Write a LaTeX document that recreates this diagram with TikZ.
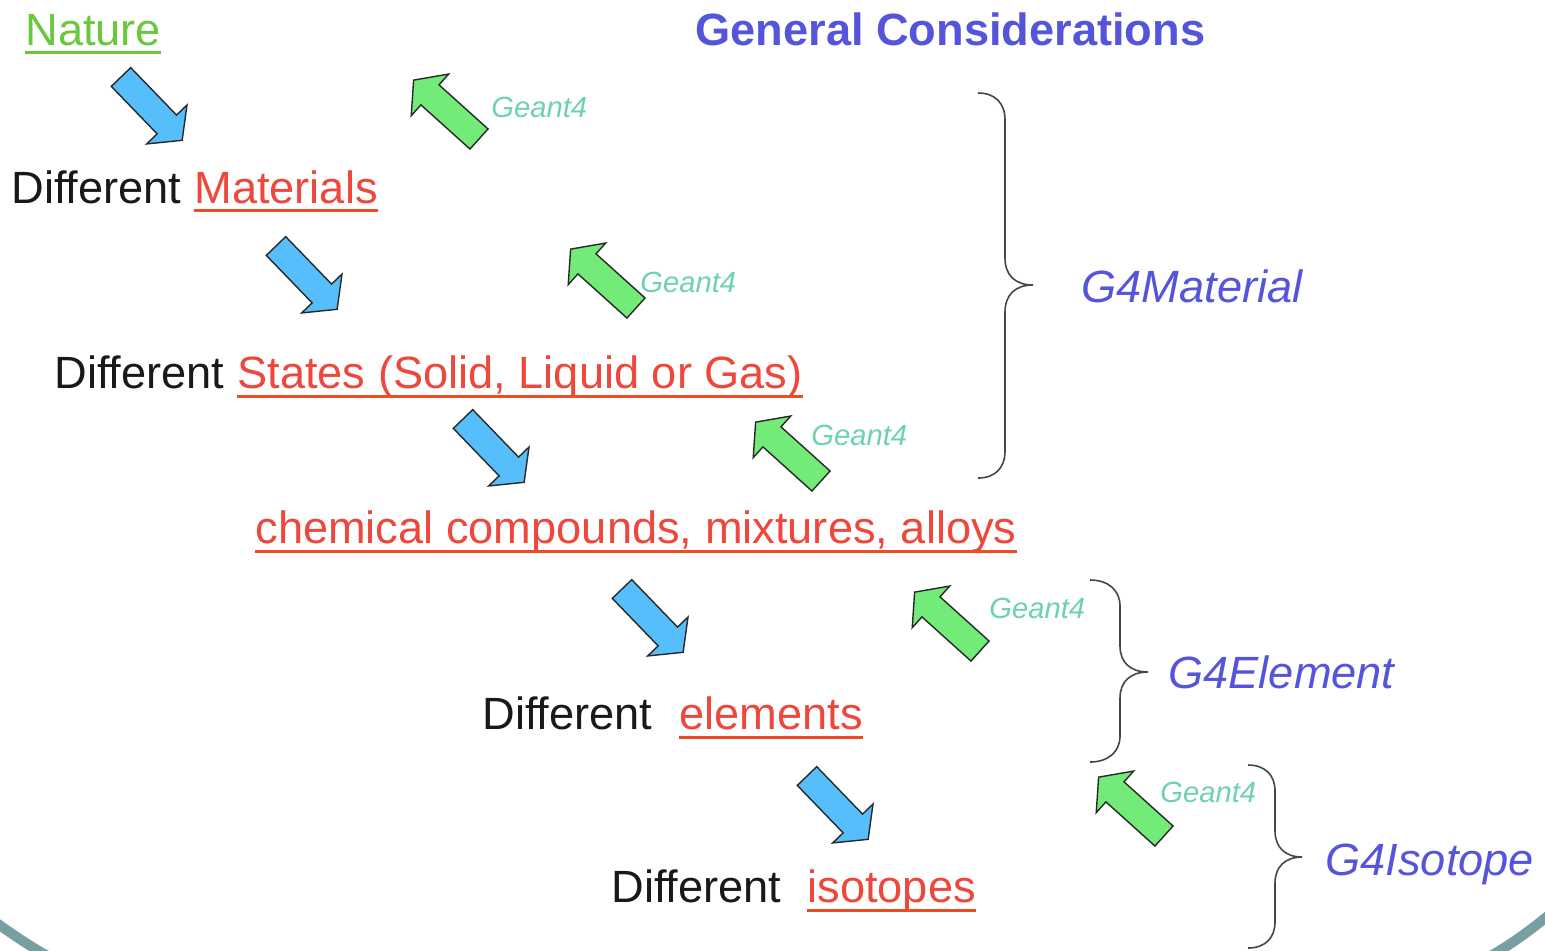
\documentclass[tikz,border=0pt]{standalone}
\usepackage{fontspec}
\setmainfont{Liberation Sans}
\definecolor{bluefill}{RGB}{86,190,250}
\definecolor{greenfill}{RGB}{115,235,120}
\definecolor{arrowline}{RGB}{40,40,40}
\definecolor{redtxt}{RGB}{238,72,60}
\definecolor{redline}{RGB}{240,75,35}
\definecolor{greentxt}{RGB}{105,200,60}
\definecolor{bluetxt}{RGB}{85,85,220}
\definecolor{geantc}{RGB}{110,210,175}
\definecolor{bracec}{RGB}{70,70,70}
\definecolor{borderc}{RGB}{120,160,163}
\definecolor{textblack}{RGB}{25,25,25}
\newcommand\blockarr[4]{%
  \draw[#1, shift={(#2,#3)}, rotate=#4] (0,-13.5) -- (66,-13.5) -- (66,-28) -- (88,0) -- (66,28) -- (66,13.5) -- (0,13.5) -- cycle;}
\tikzset{
  txt/.style={inner sep=0pt, anchor=base west, font=\fontsize{22.6}{26}\selectfont, text=textblack},
  redt/.style={txt, text=redtxt},
  glabel/.style={txt, text=bluetxt, font=\fontsize{22.6}{26}\selectfont\itshape},
  geant/.style={inner sep=0pt, anchor=base west, font=\fontsize{14.6}{17}\selectfont\itshape, text=geantc},
  ulred/.style={draw=redline, line width=1.5pt},
  barrow/.style={draw=arrowline, line width=0.7pt, fill=bluefill, line join=miter},
  garrow/.style={draw=arrowline, line width=0.7pt, fill=greenfill, line join=miter},
  bracepath/.style={draw=bracec, line width=0.8pt},
}
\begin{document}
\begin{tikzpicture}[x=0.5pt, y=-0.5pt]
\useasboundingbox (0,0) rectangle (1545,950);
\fill[white] (0,0) rectangle (1545,950);

% bottom border arcs
\draw[borderc, line width=5pt] (-20,911) .. controls (5,929) and (25,944) .. (60,963);
\draw[borderc, line width=5pt] (1565,902) .. controls (1540,922) and (1520,940) .. (1480,962);

% title and top label
\node[txt, text=greentxt] (nature) at (25,45) {Nature};
\draw[draw=greentxt, line width=1.5pt] ([yshift=-3.8pt]nature.base west) -- ([yshift=-3.8pt]nature.base east);
\node[txt, text=bluetxt, font=\fontsize{22.6}{26}\selectfont\bfseries] (title) at (695,45) {General Considerations};

% text lines
\node[txt] (d1) at (11,203) {Different};
\node[redt] (mat) at (194,203) {Materials};
\draw[ulred] ([yshift=-3.6pt]mat.base west) -- ([yshift=-3.6pt]mat.base east);

\node[txt] (d2) at (54,388) {Different};
\node[redt] (states) at (237,388) {States (Solid, Liquid or Gas)};
\draw[ulred] ([yshift=-4pt]states.base west) -- ([yshift=-4pt]states.base east);

\node[redt] (chem) at (255,543) {chemical compounds, mixtures, alloys};
\draw[ulred] ([yshift=-4pt]chem.base west) -- ([yshift=-4pt]chem.base east);

\node[txt] (d3) at (482,729) {Different};
\node[redt] (elem) at (679,729) {elements};
\draw[ulred] ([yshift=-4pt]elem.base west) -- ([yshift=-4pt]elem.base east);

\node[txt] (d4) at (611,902) {Different};
\node[redt] (iso) at (807,902) {isotopes};
\draw[ulred] ([yshift=-4pt]iso.base west) -- ([yshift=-4pt]iso.base east);

% class labels
\node[glabel] (gmat) at (1081,302) {G4Material};
\node[glabel] (gel) at (1168,688) {G4Element};
\node[glabel] (giso) at (1325,875) {G4Isotope};

% Geant4 labels
\node[geant] (ge1) at (491,117) {Geant4};
\node[geant] (ge2) at (640,292) {Geant4};
\node[geant] (ge3) at (811,445) {Geant4};
\node[geant] (ge4) at (989,618) {Geant4};
\node[geant] (ge5) at (1160,802) {Geant4};

% blue arrows (down-right)
\blockarr{barrow}{121}{77}{-46}
\blockarr{barrow}{276}{246}{-46}
\blockarr{barrow}{463}{419}{-46}
\blockarr{barrow}{622}{589}{-46}
\blockarr{barrow}{807}{776}{-46}

% green arrows (up-left)
\blockarr{garrow}{479}{139}{138}
\blockarr{garrow}{636}{308}{138}
\blockarr{garrow}{821}{481}{138}
\blockarr{garrow}{980}{651}{138}
\blockarr{garrow}{1164}{836}{138}

% braces
\draw[bracepath] (978,93) .. controls (995,93) and (1005,103) .. (1005,120) -- (1005,258)
  .. controls (1005,275) and (1015,285) .. (1033,285)
  .. controls (1015,285) and (1005,295) .. (1005,312) -- (1005,451)
  .. controls (1005,468) and (995,478) .. (978,478);
\draw[bracepath] (1090,580) .. controls (1108,580) and (1120,590) .. (1120,606) -- (1120,646)
  .. controls (1120,662) and (1130,672) .. (1148,672)
  .. controls (1130,672) and (1120,682) .. (1120,698) -- (1120,736)
  .. controls (1120,752) and (1108,762) .. (1090,762);
\draw[bracepath] (1248,765) .. controls (1265,765) and (1275,775) .. (1275,791) -- (1275,831)
  .. controls (1275,847) and (1285,857) .. (1302,857)
  .. controls (1285,857) and (1275,867) .. (1275,883) -- (1275,922)
  .. controls (1275,938) and (1265,948) .. (1248,948);
\end{tikzpicture}
\end{document}
